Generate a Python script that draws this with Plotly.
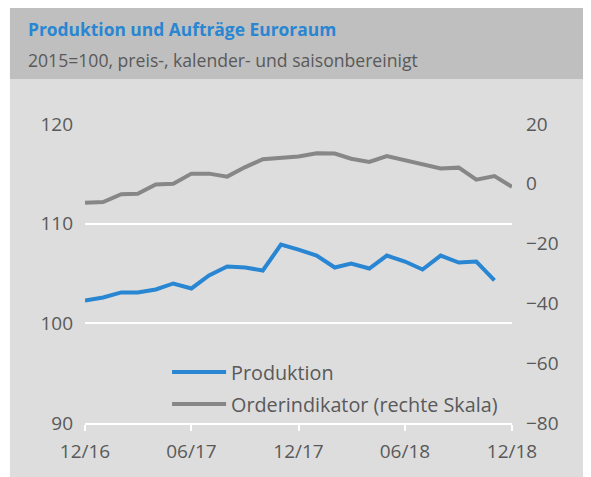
import plotly.graph_objects as go

# Monatswerte 12/2016 bis 12/2018
months = ["2016-12", "2017-01", "2017-02", "2017-03", "2017-04", "2017-05", "2017-06",
          "2017-07", "2017-08", "2017-09", "2017-10", "2017-11", "2017-12",
          "2018-01", "2018-02", "2018-03", "2018-04", "2018-05", "2018-06",
          "2018-07", "2018-08", "2018-09", "2018-10", "2018-11", "2018-12"]

# Produktion (linke Skala), bis 11/2018
produktion = [102.3, 102.6, 103.1, 103.1, 103.4, 104.0, 103.5, 104.8, 105.7, 105.6,
              105.3, 107.9, 107.4, 106.8, 105.6, 106.0, 105.5, 106.8, 106.2, 105.4,
              106.8, 106.1, 106.2, 104.3]

# Orderindikator (rechte Skala)
orderindikator = [-6.3, -6.1, -3.5, -3.3, -0.2, 0.0, 3.4, 3.4, 2.4, 5.6, 8.2, 8.7, 9.1,
                  10.2, 10.1, 8.4, 7.3, 9.3, 7.9, 6.4, 5.1, 5.4, 1.4, 2.6, -1.0]

x_ticks = ["2016-12-01", "2017-06-01", "2017-12-01", "2018-06-01", "2018-12-01"]
x_ticklabels = ["12/16", "06/17", "12/17", "06/18", "12/18"]

BLUE = "#2886D3"
GREY = "#878787"
TXT = "#595959"
FONT = "Open Sans"

# the page has an 8px body margin, so work in page pixels and shift
OFF = 8
W, H = 591 - OFF, 477 - OFF
L, R, T, B = 85, 511.7, 124, 423  # plot area in page pixels


def px(x):
    return (x - L) / (R - L)


def py(y):
    return (B - y) / (B - T)


fig = go.Figure()

fig.add_trace(go.Scatter(x=months[:len(produktion)], y=produktion, mode="lines",
                         line=dict(color=BLUE, width=4), name="Produktion"))
fig.add_trace(go.Scatter(x=months, y=orderindikator, mode="lines", yaxis="y2",
                         line=dict(color=GREY, width=4),
                         name="Orderindikator (rechte Skala)"))

shapes = [
    # heller Hintergrund
    dict(type="rect", xref="paper", yref="paper", x0=px(10), x1=px(595), y0=py(480), y1=py(79),
         fillcolor="#DDDDDD", line_width=0, layer="below"),
    # Titelband
    dict(type="rect", xref="paper", yref="paper", x0=px(10), x1=px(595), y0=py(79), y1=py(6),
         fillcolor="#BFBFBF", line_width=0, layer="below"),
    # Legende
    dict(type="line", xref="paper", yref="paper", x0=px(172), x1=px(226), y0=py(372), y1=py(372),
         line=dict(color=BLUE, width=4)),
    dict(type="line", xref="paper", yref="paper", x0=px(172), x1=px(226), y0=py(404), y1=py(404),
         line=dict(color=GREY, width=4)),
]

annotations = [
    dict(text="<b>Produktion und Aufträge Euroraum</b>", xref="paper", yref="paper",
         x=px(26), y=py(29), xanchor="left", yanchor="middle", showarrow=False,
         font=dict(family=FONT, size=17.4, color=BLUE)),
    dict(text="2015=100, preis-, kalender- und saisonbereinigt", xref="paper", yref="paper",
         x=px(26), y=py(60), xanchor="left", yanchor="middle", showarrow=False,
         font=dict(family=FONT, size=17.6, color=TXT)),
    dict(text="Produktion", xref="paper", yref="paper",
         x=px(229), y=py(372), xanchor="left", yanchor="middle", showarrow=False,
         font=dict(family=FONT, size=19.8, color=TXT)),
    dict(text="Orderindikator (rechte Skala)", xref="paper", yref="paper",
         x=px(229), y=py(404), xanchor="left", yanchor="middle", showarrow=False,
         font=dict(family=FONT, size=19.8, color=TXT)),
]

fig.update_layout(
    width=W, height=H,
    margin=dict(l=L - OFF, r=W - (R - OFF), t=T - OFF, b=H - (B - OFF)),
    paper_bgcolor="white",
    plot_bgcolor="rgba(0,0,0,0)",
    showlegend=False,
    font=dict(family=FONT, size=19, color=TXT),
    shapes=shapes,
    annotations=annotations,
    xaxis=dict(type="date", range=["2016-12-01", "2018-12-01"],
               tickvals=x_ticks, ticktext=x_ticklabels,
               showgrid=False, showline=True, linecolor="white", linewidth=1.5,
               ticks="outside", ticklen=6, tickcolor="white", tickwidth=1.5,
               ticklabelstandoff=4, zeroline=False),
    yaxis=dict(range=[90, 120], dtick=10, showgrid=True, gridcolor="white", gridwidth=1.5,
               zeroline=False, showline=False, ticklabelstandoff=11),
    yaxis2=dict(range=[-80, 20], dtick=20, overlaying="y", side="right", showgrid=False,
                zeroline=False, showline=False, ticklabelstandoff=13),
)

fig.write_html("out.html")
